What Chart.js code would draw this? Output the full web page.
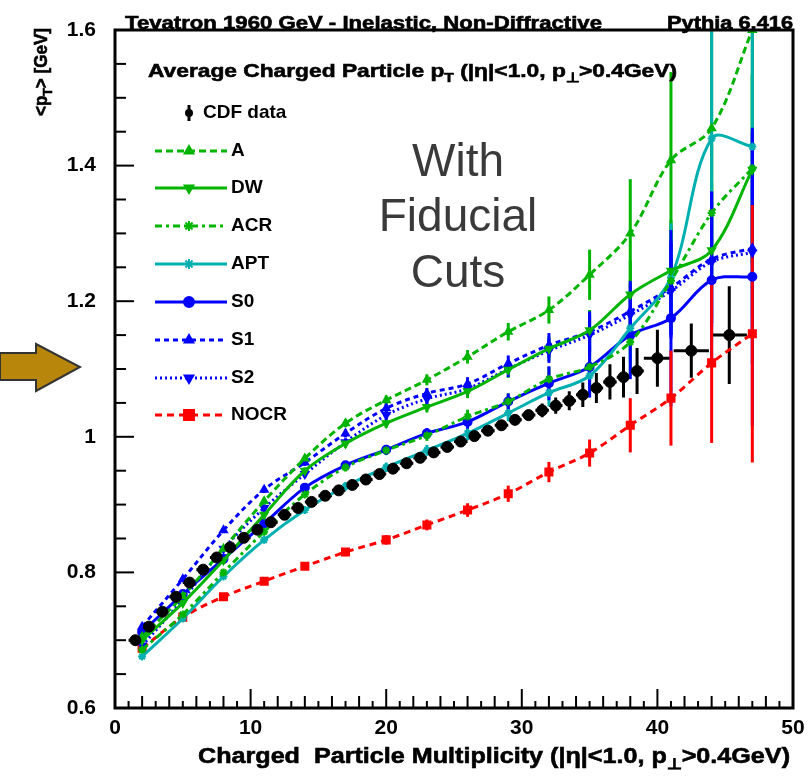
<!DOCTYPE html>
<html>
<head>
<meta charset="utf-8">
<script src="https://cdn.jsdelivr.net/npm/chart.js@4.4.1/dist/chart.umd.min.js"></script>
<style>
  html, body { margin: 0; padding: 0; background: #fff; }
</style>
</head>
<body>
<canvas id="grafica" width="812" height="776"></canvas>
<script>
// ---- datos ----
var xModelo = [2, 5, 8, 11, 14, 17, 20, 23, 26, 29, 32, 35, 38, 41, 44, 47];

var serieA    = [0.705, 0.765, 0.835, 0.905, 0.968, 1.020, 1.054, 1.084, 1.118, 1.155, 1.187, 1.239, 1.300, 1.408, 1.455, 1.600];
var serieDW   = [0.700, 0.755, 0.818, 0.885, 0.950, 0.990, 1.020, 1.044, 1.067, 1.099, 1.130, 1.157, 1.210, 1.245, 1.275, 1.394];
var serieACR  = [0.686, 0.738, 0.800, 0.860, 0.915, 0.955, 0.980, 1.002, 1.030, 1.052, 1.085, 1.103, 1.140, 1.230, 1.330, 1.396];
var serieAPT  = [0.676, 0.732, 0.794, 0.848, 0.892, 0.927, 0.955, 0.980, 1.005, 1.035, 1.065, 1.090, 1.160, 1.235, 1.440, 1.428];
var serieS0   = [0.712, 0.768, 0.820, 0.872, 0.925, 0.958, 0.981, 1.005, 1.022, 1.052, 1.079, 1.103, 1.150, 1.175, 1.231, 1.236];
var serieS1   = [0.720, 0.790, 0.862, 0.922, 0.962, 1.005, 1.042, 1.064, 1.078, 1.108, 1.135, 1.155, 1.185, 1.220, 1.262, 1.278];
var serieS2   = [0.692, 0.760, 0.835, 0.895, 0.945, 0.992, 1.032, 1.056, 1.071, 1.100, 1.127, 1.150, 1.180, 1.215, 1.258, 1.272];
var serieNOCR = [0.688, 0.734, 0.764, 0.787, 0.809, 0.830, 0.848, 0.870, 0.892, 0.916, 0.948, 0.976, 1.017, 1.057, 1.109, 1.152];

var errA    = [0.004, 0.004, 0.004, 0.005, 0.005, 0.006, 0.007, 0.008, 0.010, 0.013, 0.020, 0.037, 0.080, 0.130, 0.170, 0.220];
var errDW   = [0.004, 0.004, 0.004, 0.005, 0.005, 0.006, 0.007, 0.008, 0.010, 0.012, 0.018, 0.030, 0.050, 0.075, 0.100, 0.140];
var errACR  = [0.004, 0.004, 0.004, 0.005, 0.005, 0.006, 0.007, 0.008, 0.010, 0.012, 0.018, 0.030, 0.050, 0.080, 0.100, 0.140];
var errAPT  = [0.004, 0.004, 0.004, 0.005, 0.005, 0.006, 0.007, 0.008, 0.010, 0.012, 0.020, 0.032, 0.050, 0.080, 0.200, 0.250];
var errS0   = [0.004, 0.004, 0.004, 0.005, 0.005, 0.006, 0.007, 0.008, 0.010, 0.012, 0.025, 0.045, 0.065, 0.130, 0.130, 0.220];
var errS1   = [0.004, 0.004, 0.004, 0.005, 0.005, 0.006, 0.007, 0.008, 0.010, 0.012, 0.018, 0.030, 0.045, 0.070, 0.100, 0.170];
var errS2   = [0.004, 0.004, 0.004, 0.005, 0.005, 0.006, 0.007, 0.008, 0.010, 0.012, 0.018, 0.030, 0.045, 0.070, 0.090, 0.120];
var errNOCR = [0.004, 0.004, 0.004, 0.005, 0.005, 0.006, 0.007, 0.008, 0.010, 0.012, 0.015, 0.020, 0.040, 0.070, 0.118, 0.190];

// datos CDF
var cdfX = [1.5, 2.5, 3.5, 4.5, 5.5, 6.5, 7.5, 8.5, 9.5, 10.5, 11.5, 12.5, 13.5, 14.5, 15.5, 16.5, 17.5, 18.5, 19.5, 20.5,
            21.5, 22.5, 23.5, 24.5, 25.5, 26.5, 27.5, 28.5, 29.5, 30.5, 31.5, 32.5, 33.5, 34.5, 35.5, 36.5, 37.5, 38.5,
            40, 42.5, 45.3];
var cdfY = [0.700, 0.720, 0.742, 0.764, 0.785, 0.804, 0.822, 0.837, 0.851, 0.863, 0.874, 0.885, 0.895, 0.904, 0.913, 0.921,
            0.929, 0.937, 0.945, 0.953, 0.961, 0.969, 0.977, 0.985, 0.993, 1.001, 1.009, 1.017, 1.025, 1.032, 1.039, 1.046,
            1.053, 1.062, 1.072, 1.081, 1.088, 1.097, 1.116, 1.127, 1.150];
var cdfErrY = [0.005, 0.005, 0.005, 0.005, 0.005, 0.005, 0.005, 0.005, 0.005, 0.005, 0.005, 0.005, 0.005, 0.005, 0.005, 0.005,
               0.005, 0.005, 0.005, 0.005, 0.005, 0.005, 0.005, 0.005, 0.005, 0.005, 0.005, 0.006, 0.007, 0.008, 0.010, 0.012,
               0.014, 0.018, 0.022, 0.026, 0.030, 0.034, 0.042, 0.040, 0.072];
var cdfErrX = [0.5, 0.5, 0.5, 0.5, 0.5, 0.5, 0.5, 0.5, 0.5, 0.5, 0.5, 0.5, 0.5, 0.5, 0.5, 0.5, 0.5, 0.5, 0.5, 0.5,
               0.5, 0.5, 0.5, 0.5, 0.5, 0.5, 0.5, 0.5, 0.5, 0.5, 0.5, 0.5, 0.5, 0.5, 0.5, 0.5, 0.5, 0.5,
               1.0, 1.3, 1.3];

var xTicks = [0, 10, 20, 30, 40, 50];
var xTickLabels = ["0", "10", "20", "30", "40", "50"];
var yTicks = [0.6, 0.8, 1.0, 1.2, 1.4, 1.6];
var yTickLabels = ["0.6", "0.8", "1", "1.2", "1.4", "1.6"];

var VERDE = "#00b400", CIAN = "#00b0b0", AZUL = "#0000ff", ROJO = "#ff0000";
var FUENTE = "'Liberation Sans', Arial, sans-serif";

function puntos(xs, ys)
{
	var res = [];
	for (var i = 0; i < xs.length; i++) res.push({x: xs[i], y: ys[i]});
	return res;
}

function serieModelo(nombre, valores, errores, color, dash, estilo, giro)
{
	return {
		label: nombre,
		data: puntos(xModelo, valores),
		errY: errores,
		colorError: color,
		borderColor: color,
		backgroundColor: color,
		borderWidth: 3,
		borderDash: dash,
		tension: 0.35,
		pointStyle: estilo,
		rotation: giro || 0,
		pointRadius: 4,
		pointBorderWidth: 2,
		pointBackgroundColor: color,
		pointBorderColor: color,
		clip: 0
	};
}

var datasets = [
	{
		label: "CDF data",
		data: puntos(cdfX, cdfY),
		errY: cdfErrY,
		errX: cdfErrX,
		colorError: "#000",
		showLine: false,
		pointStyle: "circle",
		pointRadius: 5.5,
		pointBackgroundColor: "#000",
		pointBorderColor: "#000",
		clip: 0
	},
	serieModelo("A", serieA, errA, VERDE, [7, 4], "triangle"),
	serieModelo("DW", serieDW, errDW, VERDE, [], "triangle", 180),
	serieModelo("ACR", serieACR, errACR, VERDE, [7, 4, 3, 4], "star"),
	serieModelo("APT", serieAPT, errAPT, CIAN, [], "star"),
	serieModelo("S0", serieS0, errS0, AZUL, [], "circle"),
	serieModelo("S1", serieS1, errS1, AZUL, [5, 4], "triangle"),
	serieModelo("S2", serieS2, errS2, AZUL, [2, 3], "triangle", 180),
	serieModelo("NOCR", serieNOCR, errNOCR, ROJO, [7, 5], "rect")
];
datasets[8].pointRadius = 5;

/*******************************************************************************
 * Utilidades de texto
 *******************************************************************************/

// tramos: [texto, esSubindice]
function anchoTramos(ctx, tramos, tam)
{
	var w = 0;
	tramos.forEach(function (t) {
		ctx.font = "bold " + (t[1] ? Math.round(tam * 0.7) : tam) + "px " + FUENTE;
		w += ctx.measureText(t[0]).width;
	});
	return w;
}

function textoAjustado(ctx, tramos, x, y, ancho, tam)
{
	var w = anchoTramos(ctx, tramos, tam);
	ctx.save();
	ctx.translate(x, y);
	ctx.scale(ancho / w, 1);
	ctx.textAlign = "left";
	ctx.textBaseline = "alphabetic";
	ctx.lineWidth = 0.6;
	var cx = 0;
	tramos.forEach(function (t) {
		var sub = t[1];
		ctx.font = "bold " + (sub ? Math.round(tam * 0.7) : tam) + "px " + FUENTE;
		ctx.fillText(t[0], cx, sub ? tam * 0.25 : 0);
		ctx.strokeText(t[0], cx, sub ? tam * 0.25 : 0);
		cx += ctx.measureText(t[0]).width;
	});
	ctx.restore();
}

/*******************************************************************************
 * Plugins
 *******************************************************************************/

var pluginErrores = {
	id: "errores",
	beforeDatasetsDraw: function (chart) {
		var ctx = chart.ctx, sx = chart.scales.x, sy = chart.scales.y, a = chart.chartArea;
		ctx.save();
		ctx.beginPath();
		ctx.rect(a.left, a.top, a.right - a.left, a.bottom - a.top);
		ctx.clip();
		ctx.lineWidth = 3;
		ctx.setLineDash([]);
		chart.data.datasets.forEach(function (ds) {
			if (!ds.errY) return;
			ctx.strokeStyle = ds.colorError;
			ds.data.forEach(function (p, i) {
				var px = sx.getPixelForValue(p.x);
				ctx.beginPath();
				ctx.moveTo(px, sy.getPixelForValue(p.y - ds.errY[i]));
				ctx.lineTo(px, sy.getPixelForValue(p.y + ds.errY[i]));
				if (ds.errX) {
					var py = sy.getPixelForValue(p.y);
					ctx.moveTo(sx.getPixelForValue(p.x - ds.errX[i]), py);
					ctx.lineTo(sx.getPixelForValue(p.x + ds.errX[i]), py);
				}
				ctx.stroke();
			});
		});
		ctx.restore();
	}
};

var pluginDecorado = {
	id: "decorado",
	afterDraw: function (chart) {
		var ctx = chart.ctx, sx = chart.scales.x, sy = chart.scales.y, a = chart.chartArea;
		ctx.save();
		ctx.setLineDash([]);
		ctx.strokeStyle = "#000";
		ctx.fillStyle = "#000";

		// marco
		ctx.lineWidth = 3;
		ctx.strokeRect(a.left, a.top, a.right - a.left, a.bottom - a.top);

		// marcas eje x (hacia dentro)
		ctx.lineWidth = 2;
		for (var v = 1; v < 50; v++) {
			var lx = (v % 10 === 0) ? 19 : ((v % 2 === 0) ? 12 : 7);
			var px = sx.getPixelForValue(v);
			ctx.beginPath();
			ctx.moveTo(px, a.bottom);
			ctx.lineTo(px, a.bottom - lx);
			ctx.stroke();
		}
		// marcas eje y
		for (var k = 1; k < 20; k++) {
			var ly = (k % 4 === 0) ? 19 : 11;
			var py = sy.getPixelForValue(0.6 + k * 0.05);
			ctx.beginPath();
			ctx.moveTo(a.left, py);
			ctx.lineTo(a.left + ly, py);
			ctx.stroke();
		}

		// etiquetas de los ejes
		ctx.font = "bold 21px " + FUENTE;
		ctx.textBaseline = "middle";
		ctx.textAlign = "center";
		xTicks.forEach(function (t, i) {
			ctx.fillText(xTickLabels[i], sx.getPixelForValue(t), 728);
		});
		ctx.textAlign = "right";
		yTicks.forEach(function (t, i) {
			ctx.fillText(yTickLabels[i], 96, sy.getPixelForValue(t));
		});

		// titulos de los ejes
		textoAjustado(ctx, [["Charged  Particle Multiplicity (|η|<1.0, p", 0], ["⊥", 1], [">0.4GeV)", 0]],
			198, 763, 592, 22);
		ctx.save();
		ctx.translate(47, 116);
		ctx.rotate(-Math.PI / 2);
		textoAjustado(ctx, [["<p", 0], ["T", 1], ["> [GeV]", 0]], 0, 0, 88, 18);
		ctx.restore();

		// cabecera
		textoAjustado(ctx, [["Tevatron 1960 GeV - Inelastic, Non-Diffractive", 0]], 125, 29, 477, 18);
		textoAjustado(ctx, [["Pythia 6.416", 0]], 667, 29, 126, 18);

		// titulo interior
		textoAjustado(ctx, [["Average Charged Particle p", 0], ["T", 1], [" (|η|<1.0, p", 0], ["⊥", 1], [">0.4GeV)", 0]],
			148, 77, 529, 19);

		// leyenda
		var x0 = 155, x1 = 227, xm = 189;
		ctx.font = "bold 19px " + FUENTE;
		ctx.textAlign = "left";
		ctx.textBaseline = "middle";
		// CDF data
		ctx.lineWidth = 3;
		ctx.beginPath();
		ctx.moveTo(xm, 105);
		ctx.lineTo(xm, 121);
		ctx.stroke();
		ctx.beginPath();
		ctx.arc(xm, 113, 4, 0, 2 * Math.PI);
		ctx.fill();
		ctx.fillText("CDF data", 203, 113);

		var yLey = [151, 188, 226, 264, 302, 340, 378, 415];
		for (var i = 1; i < datasets.length; i++) {
			var ds = chart.data.datasets[i];
			var y = yLey[i - 1];
			ctx.strokeStyle = ds.borderColor;
			ctx.lineWidth = 3;
			ctx.setLineDash(ds.borderDash);
			ctx.beginPath();
			ctx.moveTo(x0, y);
			ctx.lineTo(x1, y);
			ctx.stroke();
			ctx.setLineDash([]);
			ctx.fillStyle = ds.borderColor;
			ctx.lineWidth = 2;
			Chart.helpers.drawPoint(ctx, {pointStyle: ds.pointStyle, rotation: ds.rotation, radius: ds.label === "NOCR" ? 7 : 5, borderWidth: 2}, xm, y);
			ctx.fillStyle = "#000";
			ctx.fillText(ds.label, 231, y);
		}

		// anotacion
		ctx.fillStyle = "#3a3a3a";
		ctx.font = "46px " + FUENTE;
		ctx.textAlign = "center";
		ctx.textBaseline = "alphabetic";
		ctx.fillText("With", 458, 176);
		ctx.fillText("Fiducial", 458, 231);
		ctx.fillText("Cuts", 458, 287);

		// flecha
		ctx.beginPath();
		ctx.moveTo(0, 353);
		ctx.lineTo(36, 353);
		ctx.lineTo(36, 344);
		ctx.lineTo(80, 367);
		ctx.lineTo(36, 391);
		ctx.lineTo(36, 380);
		ctx.lineTo(0, 380);
		ctx.closePath();
		ctx.fillStyle = "#b8860b";
		ctx.fill();
		ctx.strokeStyle = "#333";
		ctx.lineWidth = 2;
		ctx.stroke();

		ctx.restore();
	}
};

/*******************************************************************************
 * Grafica
 *******************************************************************************/

new Chart(document.getElementById("grafica"), {
	type: "line",
	data: { datasets: datasets },
	options: {
		responsive: false,
		devicePixelRatio: 1,
		animation: false,
		layout: { padding: { left: 115, right: 19, top: 30, bottom: 68 } },
		plugins: {
			legend: { display: false },
			tooltip: { enabled: false }
		},
		scales: {
			x: { type: "linear", min: 0, max: 50, display: false },
			y: { type: "linear", min: 0.6, max: 1.6, display: false }
		}
	},
	plugins: [pluginErrores, pluginDecorado]
});
</script>
</body>
</html>
